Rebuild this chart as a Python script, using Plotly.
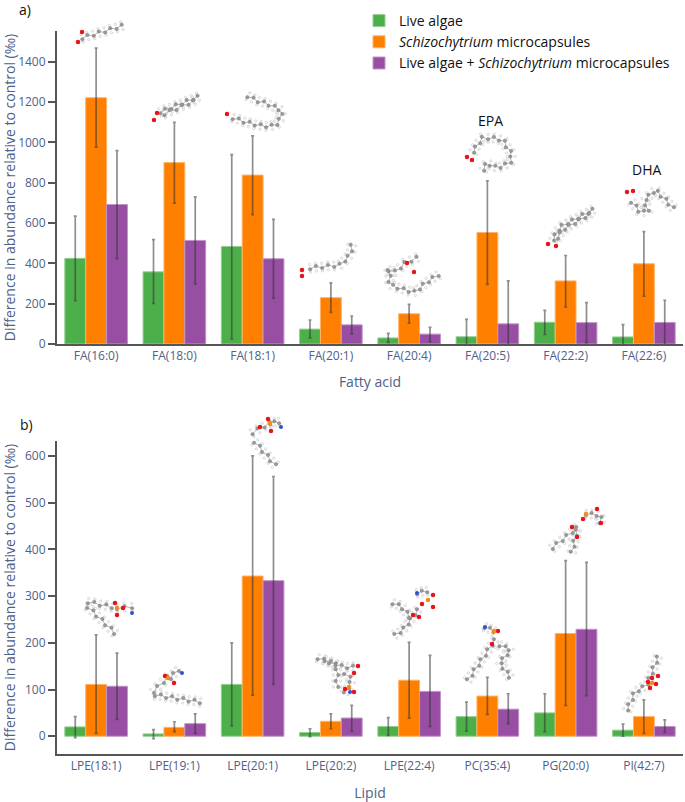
import numpy as np
import plotly.graph_objects as go

W, H = 685, 802

SERIES = ["Live algae", "<i>Schizochytrium</i> microcapsules", "Live algae + <i>Schizochytrium</i> microcapsules"]
COLORS = ["#4daf4a", "#ff7f00", "#984ea3"]
EDGES = ["#94cf92", "#ffb266", "#c195c8"]

fa_names = ["FA(16:0)", "FA(18:0)", "FA(18:1)", "FA(20:1)", "FA(20:4)", "FA(20:5)", "FA(22:2)", "FA(22:6)"]
fa_green = [425, 358, 484, 74, 30, 36, 108, 35]
fa_orange = [1222, 900, 838, 230, 150, 553, 313, 398]
fa_purple = [692, 514, 423, 95, 49, 100, 106, 107]
fa_green_hi = [634, 518, 940, 119, 53, 122, 167, 96]
fa_green_lo = [215, 202, 25, 30, 8, -50, 48, -26]
fa_orange_hi = [1468, 1100, 1033, 303, 197, 810, 439, 558]
fa_orange_lo = [977, 699, 642, 157, 103, 296, 184, 237]
fa_purple_hi = [959, 730, 618, 139, 83, 313, 205, 217]
fa_purple_lo = [425, 298, 228, 50, 12, -113, 7, -3]

lip_names = ["LPE(18:1)", "LPE(19:1)", "LPE(20:1)", "LPE(20:2)", "LPE(22:4)", "PC(35:4)", "PG(20:0)", "PI(42:7)"]
lip_green = [20, 5, 111, 8, 21, 42, 50, 13]
lip_orange = [111, 19, 343, 32, 120, 86, 220, 42]
lip_purple = [107, 27, 333, 39, 96, 58, 229, 21]
lip_green_hi = [42, 14, 200, 16, 40, 73, 91, 26]
lip_green_lo = [-3, -5, 22, -1, 2, 11, 10, 0]
lip_orange_hi = [217, 31, 600, 48, 201, 126, 376, 78]
lip_orange_lo = [6, 10, 88, 16, 39, 47, 66, 6]
lip_purple_hi = [178, 48, 556, 66, 173, 91, 372, 35]
lip_purple_lo = [36, 6, 111, 11, 21, 27, 87, 8]

# Decorative molecule sketches, in page pixels: chains, oxygens, phosphorus, nitrogen
MOLECULES = [
    ([[(82, 38), (122, 26)]], [(78, 42), (82, 32)], [], []),
    ([[(160, 112), (198, 97)], [(164, 114), (194, 101)]], [(154, 120), (157, 113)], [], []),
    ([[(233, 118), (245, 122), (262, 126), (275, 126), (281, 118), (281, 110), (268, 104), (255, 100), (248, 96)]], [(227, 114)], [], []),
    ([[(310, 268), (340, 265), (350, 255), (352, 245)]], [(302, 270), (302, 276)], [], []),
    ([[(389, 270), (390, 285), (405, 290), (415, 292), (427, 282), (438, 275)], [(389, 270), (395, 272), (405, 263), (417, 258)]], [(407, 263), (414, 272)], [], []),
    ([[(473, 152), (482, 138), (492, 138), (503, 140), (512, 155), (510, 163), (497, 168), (487, 163), (483, 170)]], [(467, 157), (472, 160)], [], []),
    ([[(553, 240), (560, 227), (593, 210)], [(557, 238), (564, 229), (590, 214)]], [(548, 244), (556, 246)], [], []),
    ([[(632, 202), (640, 212), (648, 212), (645, 200), (655, 190), (663, 197), (673, 208)]], [(627, 192), (633, 191)], [], []),
    ([[(88, 602), (112, 607)], [(88, 607), (115, 633)], [(117, 608), (132, 607)]], [(115, 603), (117, 615), (123, 608)], [(117, 608)], [(132, 613)]),
    ([[(153, 692), (168, 677)], [(155, 695), (200, 702)], [(170, 678), (178, 670)]], [(165, 676), (174, 683)], [(168, 678)], [(182, 673)]),
    ([[(252, 433), (270, 423)], [(255, 442), (275, 465)], [(270, 423), (279, 422)]], [(268, 419), (271, 431), (260, 427)], [(270, 423)], [(281, 427)]),
    ([[(318, 658), (337, 665), (337, 687)], [(325, 660), (343, 667), (353, 667)], [(345, 673), (352, 680), (345, 693)]], [(358, 666), (354, 673), (354, 692), (345, 689)], [(349, 687)], [(350, 692)]),
    ([[(418, 610), (403, 630), (395, 635)], [(393, 603), (402, 607), (410, 617)], [(417, 593), (427, 591)]], [(422, 604), (433, 607), (433, 595), (413, 615), (419, 617)], [(428, 600)], [(417, 593)]),
    ([[(495, 640), (468, 680)], [(500, 645), (510, 650), (500, 663), (510, 677)], [(485, 627), (494, 631)]], [(498, 631), (492, 644)], [(494, 631)], [(485, 627)]),
    ([[(577, 528), (552, 548)], [(577, 530), (572, 552)], [(586, 514), (600, 515), (601, 523)]], [(572, 527), (577, 537), (583, 519), (597, 509), (601, 523)], [(586, 514)], []),
    ([[(627, 710), (635, 692), (647, 685), (658, 657)]], [(648, 682), (652, 678), (656, 684), (650, 688), (658, 676)], [(652, 683)], []),
]

fig = go.Figure()

def add_group(names, vals, his, los, xa, ya, legend):
    for i, (v, hi, lo) in enumerate(zip(vals, his, los)):
        fig.add_trace(go.Bar(
            x=names, y=v, name=SERIES[i], xaxis=xa, yaxis=ya, showlegend=legend,
            marker=dict(color=COLORS[i], line=dict(color=EDGES[i], width=1)),
            error_y=dict(type="data", symmetric=False,
                         array=[h - a for h, a in zip(hi, v)],
                         arrayminus=[a - l for a, l in zip(v, lo)],
                         color="rgba(50,50,50,0.55)", thickness=1.7, width=1.5),
        ))

add_group(fa_names, [fa_green, fa_orange, fa_purple], [fa_green_hi, fa_orange_hi, fa_purple_hi],
          [fa_green_lo, fa_orange_lo, fa_purple_lo], "x", "y", True)
add_group(lip_names, [lip_green, lip_orange, lip_purple], [lip_green_hi, lip_orange_hi, lip_purple_hi],
          [lip_green_lo, lip_orange_lo, lip_purple_lo], "x2", "y2", False)


def sketch(chains, oxy, phos, nit):
    cx, cy, hx, hy = [], [], [], []
    lx, ly = [], []
    for chain in chains:
        pts = np.array(chain, float)
        seg = np.hypot(*np.diff(pts, axis=0).T)
        s = np.r_[0, np.cumsum(seg)]
        n = max(int(s[-1] / 5.5), 2)
        t = np.linspace(0, s[-1], n + 1)
        px, py = np.interp(t, s, pts[:, 0]), np.interp(t, s, pts[:, 1])
        dx, dy = np.gradient(px), np.gradient(py)
        d = np.hypot(dx, dy) + 1e-6
        nx, ny = -dy / d, dx / d
        sign = np.where(np.arange(n + 1) % 2 == 0, 1, -1)
        zx, zy = px + 1.3 * sign * nx, py + 1.3 * sign * ny
        cx += list(zx); cy += list(zy)
        lx += list(zx) + [None]; ly += list(zy) + [None]
        hx += list(px + 4.2 * sign * nx) + list(px - 3.6 * sign * nx)
        hy += list(py + 4.2 * sign * ny) + list(py - 3.6 * sign * ny)
    return cx, cy, hx, hy, lx, ly


def overlay(x, y, **kw):
    fig.add_trace(go.Scatter(x=x, y=y, xaxis="x3", yaxis="y3", showlegend=False, hoverinfo="skip", **kw))


for chains, oxy, phos, nit in MOLECULES:
    cx, cy, hx, hy, lx, ly = sketch(chains, oxy, phos, nit)
    overlay(hx, hy, mode="markers", marker=dict(size=2.5, color="#f6f6f6", line=dict(color="#c0c0c0", width=0.5)))
    overlay(lx, ly, mode="lines", line=dict(color="#b8b8b8", width=1))
    overlay(cx, cy, mode="markers", marker=dict(size=3.5, color="#999999", line=dict(color="#777777", width=0.4)))
    if oxy:
        overlay([p[0] for p in oxy], [p[1] for p in oxy], mode="markers", marker=dict(size=4.5, color="#e8141c"))
    if phos:
        overlay([p[0] for p in phos], [p[1] for p in phos], mode="markers", marker=dict(size=4.5, color="#f08c1a"))
    if nit:
        overlay([p[0] for p in nit], [p[1] for p in nit], mode="markers", marker=dict(size=4, color="#3050d8"))

FONT = "Open Sans"
INK = "#506088"
axis_common = dict(showline=True, linecolor="#555555", linewidth=2, showgrid=False, zeroline=False, automargin=False,
                   tickfont=dict(family=FONT, size=12, color=INK))


def xd(a, b):
    return [a / W, b / W]


def yd(top, bottom):
    return [1 - bottom / H, 1 - top / H]


def ytitle(text, standoff):
    return dict(text=text, font=dict(family=FONT, size=14, color=INK), standoff=standoff)


notes = [("a)", 25, 9), ("b)", 26, 424), ("EPA", 490, 120), ("DHA", 646, 169)]

fig.update_layout(
    width=W, height=H, margin=dict(l=0, r=0, t=0, b=0), autosize=False,
    paper_bgcolor="white", plot_bgcolor="rgba(0,0,0,0)",
    barmode="group", bargap=0.2, bargroupgap=0,
    showlegend=True,
    font=dict(family=FONT),
    legend=dict(x=359 / W, y=1 - 5 / H, xanchor="left", yanchor="top", bgcolor="rgba(0,0,0,0)",
                font=dict(family=FONT, size=14, color="#111111"), traceorder="normal"),
    xaxis=dict(domain=xd(57, 683), anchor="y", range=[-0.5, 7.5], ticks="",
               title=dict(text="Fatty acid", font=dict(family=FONT, size=14, color=INK), standoff=14), **axis_common),
    yaxis=dict(domain=yd(31, 344), anchor="x", range=[0, 1553], dtick=200, ticks="outside", ticklen=7,
               tickcolor="#555555", tickwidth=1.5, title=ytitle("Difference in abundance relative to control (‰)", 6),
               **axis_common),
    xaxis2=dict(domain=xd(57, 683), anchor="y2", range=[-0.5, 7.5], ticks="",
                title=dict(text="Lipid", font=dict(family=FONT, size=14, color=INK), standoff=16), **axis_common),
    yaxis2=dict(domain=yd(441, 754), anchor="x2", range=[-38, 632], dtick=100, ticks="outside", ticklen=7,
                tickcolor="#555555", tickwidth=1.5, title=ytitle("Difference in abundance relative to control (‰)", 10),
                **axis_common),
    xaxis3=dict(domain=[0, 1], anchor="y3", range=[0, W], visible=False, fixedrange=True),
    yaxis3=dict(domain=[0, 1], anchor="x3", range=[H, 0], visible=False, fixedrange=True),
    annotations=[dict(text=t, x=x, y=y, xref="x3", yref="y3", showarrow=False,
                      font=dict(family=FONT, size=14, color="#111111")) for t, x, y in notes],
)

fig.write_html("out.html", post_script="document.body.style.margin='0';", config=dict(displayModeBar=False))
